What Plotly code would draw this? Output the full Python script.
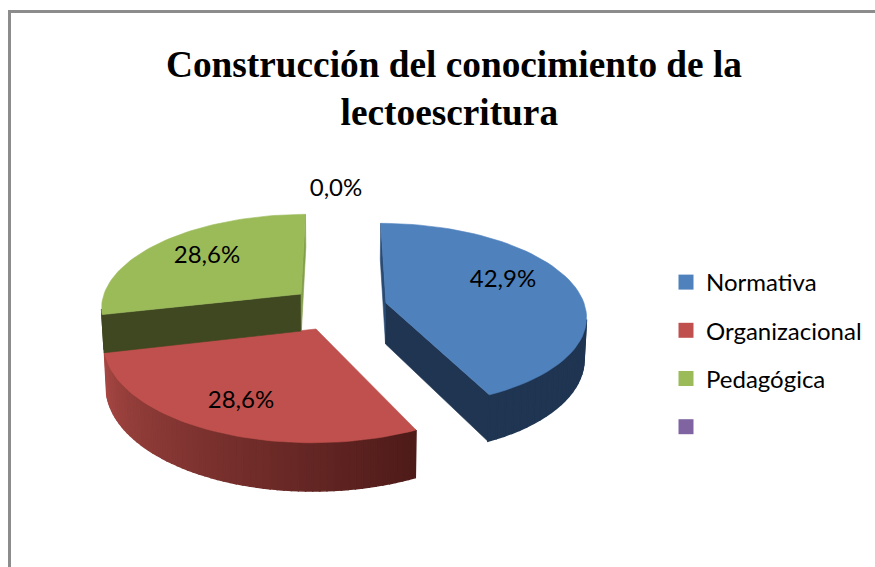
import math
import plotly.graph_objects as go

categories = ["Normativa", "Organizacional", "Pedagógica", " "]
values = [42.9, 28.6, 28.6, 0.0]
top_colors = ["#4F81BD", "#C0504D", "#9BBB59", "#8064A2"]

# Projection of the tilted disc (pixel space, y down)
VX, R, Q, K = 340, 202, 90, 0.13
apexes = [(386, 303), (316, 329), (301, 294), None]
radial_scale = [(0.98, 1.0), (1.04, 1.1), (0.975, 1.0), None]
depths = [41, 42, 37, 0]
label_pos = [(503, 281), (241, 402), (207, 257), (336, 190)]


def project(i, theta, frac=1.0, depth=0.0):
    apex = apexes[i]
    rs, qs = radial_scale[i]
    u, v = math.sin(theta) * frac, math.cos(theta) * frac
    s = 1 / (1 + K * v)
    x = VX + (apex[0] - VX + R * rs * u) * s
    y = apex[1] - Q * qs * v * s
    if depth:
        x = VX + (x - VX) * 0.99
        y += depth * s
    return x, y


def poly(fig, pts, color, width=0.6):
    xs = [p[0] for p in pts] + [pts[0][0]]
    ys = [p[1] for p in pts] + [pts[0][1]]
    fig.add_trace(go.Scatter(x=xs, y=ys, mode="lines", fill="toself", fillcolor=color,
                             line=dict(color=color, width=width), hoverinfo="skip", showlegend=False))


def lerp(c0, c1, t):
    return "rgb(%d,%d,%d)" % tuple(round(a + (b - a) * t) for a, b in zip(c0, c1))


def faces_viewer(a, b, inner):
    edge = (b[0] - a[0], b[1] - a[1])
    down = edge[0]
    side = edge[0] * (inner[1] - a[1]) - edge[1] * (inner[0] - a[0])
    return down * side < 0


fig = go.Figure()
total = sum(values)
wall_colors = {0: ("#294A73", "#1F3552"), 1: ("#4A1F1D", "#4A1F1D"), 2: ("#404821", "#84A04C")}
rim_ramp = {0: ((31, 53, 82), (31, 53, 82)), 1: ((78, 27, 25), (168, 72, 68)), 2: ((64, 72, 33), (64, 72, 33))}

start = 0.0
for i, val in enumerate(values):
    sweep = 2 * math.pi * val / total
    if val <= 0:
        continue
    apex = apexes[i]
    d = depths[i]
    end = start + sweep
    mid = project(i, start + sweep / 2, 0.6)
    n = 60
    thetas = [start + sweep * j / n for j in range(n + 1)]
    # radial walls
    for k, th in enumerate((start, end)):
        rim = project(i, th)
        if faces_viewer(apex, rim, mid):
            poly(fig, [project(i, th, 0.0), rim, project(i, th, 1.0, d),
                       project(i, th, 0.0, d)], wall_colors[i][k])
    # outer rim, shaded along the sweep
    for j in range(n):
        a, b = project(i, thetas[j]), project(i, thetas[j + 1])
        if faces_viewer(a, b, apex):
            poly(fig, [a, b, project(i, thetas[j + 1], 1.0, d), project(i, thetas[j], 1.0, d)],
                 lerp(*rim_ramp[i], j / n), width=1.5)
    # top face
    poly(fig, [apex] + [project(i, t) for t in thetas], top_colors[i])
    start = end

fig.add_trace(go.Scatter(
    x=[p[0] for p in label_pos], y=[p[1] for p in label_pos], mode="text",
    text=[f"{v:.1f}%".replace(".", ",") for v in values],
    textfont=dict(family="Lato", size=24, color="#000000"),
    textposition="middle center", hoverinfo="skip", showlegend=False))

for name, color in zip(categories, top_colors):
    fig.add_trace(go.Scatter(x=[None], y=[None], mode="markers", name=name, legendgroup=name,
                             marker=dict(symbol="square", size=15, color=color)))

fig.update_layout(
    width=875, height=567, margin=dict(l=0, r=0, t=0, b=0, autoexpand=False),
    paper_bgcolor="white", plot_bgcolor="white",
    xaxis=dict(range=[0, 875], visible=False, fixedrange=True),
    yaxis=dict(range=[567, 0], visible=False, fixedrange=True),
    title=dict(text="<b>Construcción del conocimiento de la<br>lectoescritura&nbsp;</b>",
               font=dict(family="Liberation Serif", size=37.3, color="#000000"),
               x=454 / 875, xanchor="center", y=1 - 77 / 567, yanchor="top", xref="paper", yref="paper"),
    legend=dict(x=666 / 875, xanchor="left", y=1 - 260 / 567, yanchor="top", tracegroupgap=14,
                font=dict(family="Lato", size=24, color="#000000"), bgcolor="rgba(0,0,0,0)"),
    shapes=[
        dict(type="line", xref="x", yref="y", x0=9.5, x1=9.5, y0=10, y1=567, line=dict(color="#8C8C8C", width=3)),
        dict(type="line", xref="x", yref="y", x0=8, x1=875, y0=11.5, y1=11.5, line=dict(color="#8C8C8C", width=3)),
    ],
)

fig.write_html("out.html", config={"displayModeBar": False},
               post_script="document.body.style.margin='0';document.body.style.overflow='hidden';")
